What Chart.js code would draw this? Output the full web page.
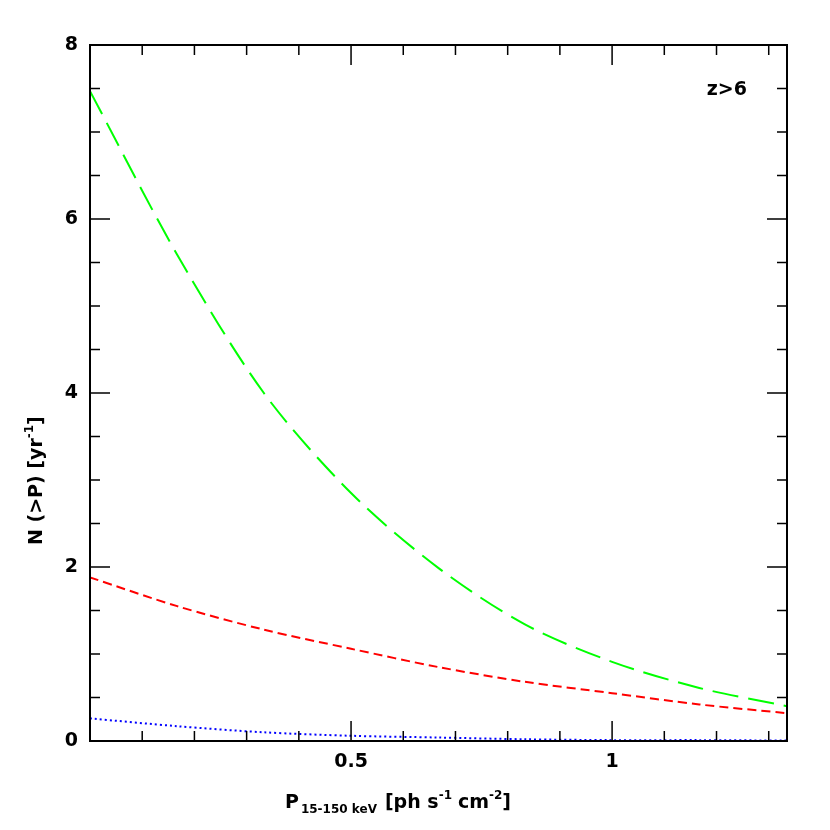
<!DOCTYPE html>
<html>
<head>
<script src="https://cdn.jsdelivr.net/npm/chart.js@4.4.0/dist/chart.umd.min.js"></script>
<style>body{margin:0;background:#fff}</style>
</head>
<body>
<canvas id="c" width="830" height="830"></canvas>
<script>
let xs = [0, 0.167, 0.333, 0.5, 0.667, 0.833, 1.0, 1.167, 1.335];
let green = [7.47, 5.59, 4.0, 2.85, 1.99, 1.34, 0.91, 0.61, 0.40];
let red = [1.88, 1.55, 1.28, 1.06, 0.85, 0.68, 0.55, 0.42, 0.32];
let blue = [0.26, 0.17, 0.10, 0.06, 0.04, 0.02, 0.01, 0.01, 0.005];
let xTicks = [0.5, 1];
let yTicks = [0, 2, 4, 6, 8];

function pts(ys) { return xs.map((x, i) => ({ x: x, y: ys[i] })); }

/* inward ticks, frame and labels */
let frame = {
    id: "frame",
    afterDraw(chart) {
        let ctx = chart.ctx, a = chart.chartArea;
        let sx = chart.scales.x, sy = chart.scales.y;
        ctx.save();
        ctx.strokeStyle = "#000";
        ctx.lineWidth = 2;
        ctx.strokeRect(a.left, a.top, a.right - a.left, a.bottom - a.top);
        ctx.lineWidth = 1.5;
        for (let v = 0.1; v < 1.34; v += 0.1) {
            let p = sx.getPixelForValue(v);
            let major = Math.abs(v * 2 - Math.round(v * 2)) < 1e-6;
            let L = major ? 20 : 10;
            ctx.beginPath();
            ctx.moveTo(p, a.bottom); ctx.lineTo(p, a.bottom - L);
            ctx.moveTo(p, a.top); ctx.lineTo(p, a.top + L);
            ctx.stroke();
        }
        for (let v = 0.5; v < 8; v += 0.5) {
            let p = sy.getPixelForValue(v);
            let L = (v % 2 === 0) ? 20 : 10;
            ctx.beginPath();
            ctx.moveTo(a.left, p); ctx.lineTo(a.left + L, p);
            ctx.moveTo(a.right, p); ctx.lineTo(a.right - L, p);
            ctx.stroke();
        }
        ctx.fillStyle = "#000";
        ctx.font = "bold 19px 'DejaVu Sans'";
        ctx.textAlign = "center";
        ctx.textBaseline = "top";
        xTicks.forEach(v => ctx.fillText(String(v), sx.getPixelForValue(v), a.bottom + 12));
        ctx.textAlign = "right";
        ctx.textBaseline = "middle";
        yTicks.forEach(v => ctx.fillText(String(v), a.left - 12, sy.getPixelForValue(v)));

        ctx.textAlign = "right";
        ctx.fillText("z>6", a.right - 40, a.top + 45);

        /* x title */
        ctx.textAlign = "left";
        ctx.textBaseline = "alphabetic";
        let x0 = 285, y0 = 808;
        ctx.font = "bold 19px 'DejaVu Sans'";
        ctx.fillText("P", x0, y0);
        let w = ctx.measureText("P").width;
        ctx.font = "bold 12px 'DejaVu Sans'";
        ctx.fillText("15-150 keV", x0 + w + 2, y0 + 5);
        w += ctx.measureText("15-150 keV").width + 10;
        ctx.font = "bold 19px 'DejaVu Sans'";
        ctx.fillText("[ph s", x0 + w, y0);
        w += ctx.measureText("[ph s").width;
        ctx.font = "bold 12px 'DejaVu Sans'";
        ctx.fillText("-1", x0 + w, y0 - 9);
        w += ctx.measureText("-1").width + 6;
        ctx.font = "bold 19px 'DejaVu Sans'";
        ctx.fillText("cm", x0 + w, y0);
        w += ctx.measureText("cm").width;
        ctx.font = "bold 12px 'DejaVu Sans'";
        ctx.fillText("-2", x0 + w, y0 - 9);
        w += ctx.measureText("-2").width;
        ctx.font = "bold 19px 'DejaVu Sans'";
        ctx.fillText("]", x0 + w, y0);

        /* y title */
        ctx.translate(42, 545);
        ctx.rotate(-Math.PI / 2);
        ctx.font = "bold 19px 'DejaVu Sans'";
        ctx.fillText("N (>P) [yr", 0, 0);
        w = ctx.measureText("N (>P) [yr").width;
        ctx.font = "bold 12px 'DejaVu Sans'";
        ctx.fillText("-1", w, -9);
        w += ctx.measureText("-1").width;
        ctx.font = "bold 19px 'DejaVu Sans'";
        ctx.fillText("]", w, 0);
        ctx.restore();
    }
};

new Chart(document.getElementById("c"), {
    type: "line",
    data: {
        datasets: [
            { data: pts(green), borderColor: "#00ff00", borderDash: [26, 10], borderWidth: 2 },
            { data: pts(red), borderColor: "#ff0000", borderDash: [9, 5], borderWidth: 2 },
            { data: pts(blue), borderColor: "#0000ff", borderDash: [2, 3], borderWidth: 2 }
        ]
    },
    options: {
        responsive: false,
        animation: false,
        layout: { padding: { left: 90, top: 45, right: 43, bottom: 89 } },
        elements: { point: { radius: 0 }, line: { tension: 0.3 } },
        plugins: { legend: { display: false }, tooltip: { enabled: false } },
        scales: {
            x: { type: "linear", min: 0, max: 1.335, display: false },
            y: { min: 0, max: 8, display: false }
        }
    },
    plugins: [frame]
});
</script>
</body>
</html>
